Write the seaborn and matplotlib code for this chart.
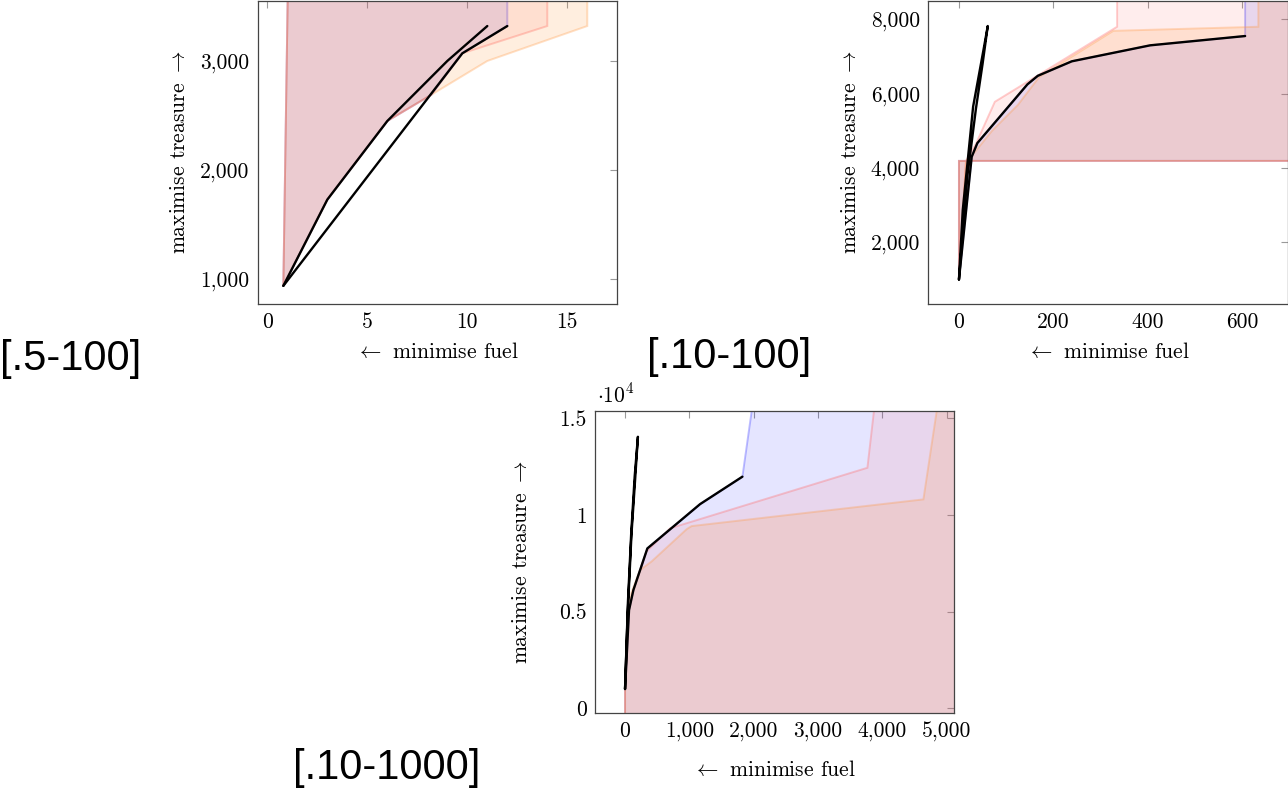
import matplotlib
matplotlib.use('Agg')
import matplotlib.pyplot as plt
import pandas as pd
import seaborn as sns

# panel [.5-100]
p1_a_fuel = [0.8, 3, 6, 9, 11]
p1_a_treasure = [940, 1730, 2450, 3000, 3320]
p1_b_fuel = [0.8, 9.75, 12]
p1_b_treasure = [940, 3070, 3320]
p1_blue_fuel = [0.8, 3, 6, 8.2, 9.75, 12]
p1_blue_treasure = [940, 1730, 2450, 2690, 3070, 3320]
p1_red_fuel = [0.8, 3, 6, 8.2, 9.75, 14]
p1_red_treasure = [940, 1730, 2450, 2690, 3070, 3320]
p1_orange_fuel = [0.8, 3, 6, 8.2, 11, 16]
p1_orange_treasure = [940, 1730, 2450, 2690, 3000, 3320]
p1_left = 1.02

# panel [.10-100]
p2_a_fuel = [0, 27, 39, 145, 167, 239, 405, 606]
p2_a_treasure = [1000, 4300, 4670, 6250, 6480, 6870, 7300, 7550]
p2_b_fuel = [0, 8, 30, 52, 61, 50, 36, 18, 0]
p2_b_treasure = [1000, 2860, 5650, 7180, 7820, 6800, 5600, 3800, 1000]
p2_blue_fuel = [0, 27, 39, 145, 167, 239, 405, 606]
p2_blue_treasure = [1000, 4300, 4670, 6250, 6480, 6870, 7300, 7550]
p2_red_fuel = [0, 15, 36, 76, 335]
p2_red_treasure = [1000, 4190, 4650, 5780, 7800]
p2_orange_fuel = [0, 15, 35, 70, 125, 170, 327, 634]
p2_orange_treasure = [1000, 4190, 4450, 5000, 5700, 6450, 7690, 7800]
p2_floor = 4190

# panel [.10-1000]
p3_a_fuel = [0, 62, 130, 347, 1166, 1824]
p3_a_treasure = [1000, 5080, 6120, 8270, 10560, 11980]
p3_b_fuel = [0, 40, 100, 160, 200, 150, 95, 45, 0]
p3_b_treasure = [1000, 4800, 9000, 12000, 14044, 12000, 9000, 5500, 1000]
p3_blue_fuel = [0, 62, 130, 347, 1166, 1824, 1995]
p3_blue_treasure = [1000, 5080, 6120, 8270, 10560, 11980, 16000]
p3_red_fuel = [0, 55, 120, 330, 700, 3767, 3890]
p3_red_treasure = [1000, 5000, 6000, 8100, 9310, 12440, 16000]
p3_orange_fuel = [0, 45, 100, 233, 414, 959, 1036, 4637, 4872]
p3_orange_treasure = [1000, 5000, 6000, 7150, 7600, 9270, 9426, 10806, 16000]
p3_floor = -1000

BLUE = (0.0, 0.0, 1.0)
RED = (1.0, 0.43, 0.43)
ORANGE = (1.0, 0.59, 0.24)

sns.set_theme(style='white')
plt.rcParams['font.family'] = ['cmr10', 'DejaVu Serif']
plt.rcParams['mathtext.fontset'] = 'cm'
plt.rcParams['axes.formatter.use_mathtext'] = True
plt.rcParams['axes.unicode_minus'] = False
plt.rcParams['text.color'] = 'black'
plt.rcParams['axes.labelcolor'] = 'black'

fig = plt.figure(figsize=(12.88, 7.91), dpi=100)
fig.patch.set_facecolor('white')


def region(ax, fuel, treasure, corners, col, fa, ea):
    xs = list(fuel) + [c[0] for c in corners]
    ys = list(treasure) + [c[1] for c in corners]
    ax.fill(xs, ys, facecolor=col + (fa,), edgecolor=col + (ea,), lw=1.4, zorder=1)


def lines(ax, paths):
    rows = []
    for i, (fx, ty) in enumerate(paths):
        for k, (a, b) in enumerate(zip(fx, ty)):
            rows.append({'fuel': a, 'treasure': b, 'path': i, 'order': k})
    df = pd.DataFrame(rows)
    sns.lineplot(data=df, x='fuel', y='treasure', units='path', estimator=None,
                 sort=False, color='black', lw=1.7, ax=ax, zorder=3)


def style(ax, xlim, ylim, xt, yt, ylab_x, xlab_y, ylabels=None):
    ax.set_xlim(*xlim)
    ax.set_ylim(*ylim)
    ax.set_xticks(xt, labels=[f'{v:,}' for v in xt])
    ax.set_yticks(yt, labels=ylabels if ylabels else [f'{v:,}' for v in yt])
    ax.tick_params(direction='in', top=True, right=True, length=5, width=0.8,
                   color='#9a9a9a', labelsize=15.5, pad=6, labelcolor='black')
    for s in ax.spines.values():
        s.set_color('#444444')
        s.set_linewidth(0.9)
    ax.set_xlabel(r'$\leftarrow$ minimise fuel', fontsize=15.5)
    ax.set_ylabel(r'maximise treasure $\rightarrow$', fontsize=15.5)
    ax.xaxis.set_label_coords(0.5, xlab_y)
    ax.yaxis.set_label_coords(ylab_x, 0.5)
    ax.set_facecolor('white')


FILLS = [(BLUE, 0.10, 0.25), (RED, 0.12, 0.35), (ORANGE, 0.16, 0.3)]

# panel 1
ax1 = fig.add_axes([0.2001, 0.6157, 0.2787, 0.383])
top1 = 3600
for (fx, ty), (col, fa, ea) in zip([(p1_blue_fuel, p1_blue_treasure),
                                    (p1_red_fuel, p1_red_treasure),
                                    (p1_orange_fuel, p1_orange_treasure)], FILLS):
    region(ax1, fx, ty, [(fx[-1], top1), (p1_left, top1)], col, fa, ea)
lines(ax1, [(p1_a_fuel, p1_a_treasure), (p1_b_fuel, p1_b_treasure)])
style(ax1, (-0.48, 17.47), (774, 3549), [0, 5, 10, 15], [1000, 2000, 3000], -0.191, -0.127)

# panel 2
ax2 = fig.add_axes([0.7207, 0.6157, 0.2790, 0.383])
top2, right2 = 9000, 900
for (fx, ty), (col, fa, ea) in zip([(p2_blue_fuel, p2_blue_treasure),
                                    (p2_red_fuel, p2_red_treasure),
                                    (p2_orange_fuel, p2_orange_treasure)], FILLS):
    region(ax2, fx, ty, [(fx[-1], top2), (right2, top2), (right2, p2_floor), (0, p2_floor)],
           col, fa, ea)
lines(ax2, [(p2_a_fuel, p2_a_treasure), (p2_b_fuel, p2_b_treasure)])
style(ax2, (-65, 696), (340, 8492), [0, 200, 400, 600], [2000, 4000, 6000, 8000], -0.191, -0.127)

# panel 3
ax3 = fig.add_axes([0.4620, 0.0982, 0.2790, 0.3826])
top3, right3 = 16000, 6000
for (fx, ty), (col, fa, ea) in zip([(p3_blue_fuel, p3_blue_treasure),
                                    (p3_red_fuel, p3_red_treasure),
                                    (p3_orange_fuel, p3_orange_treasure)], FILLS):
    region(ax3, fx, ty, [(right3, top3), (right3, p3_floor), (0, p3_floor)], col, fa, ea)
lines(ax3, [(p3_a_fuel, p3_a_treasure), (p3_b_fuel, p3_b_treasure)])
style(ax3, (-466, 5119), (-258, 15393), [0, 1000, 2000, 3000, 4000, 5000],
      [0, 5000, 10000, 15000], -0.178, -0.154, ylabels=['0', '0.5', '1', '1.5'])
ax3.text(0.005, 1.015, r'$\cdot10^{4}$', transform=ax3.transAxes, ha='left', va='bottom',
         fontsize=15.5)

# panel names
for x, y, s in [(0.0, 0.532, '[.5-100]'), (0.502, 0.5348, '[.10-100]'),
                (0.2275, 0.0152, '[.10-1000]')]:
    fig.text(x, y, s, family=['Liberation Sans', 'DejaVu Sans'], fontsize=30,
             va='baseline', color='black')

fig.savefig('out.png', dpi=100, facecolor='white')
